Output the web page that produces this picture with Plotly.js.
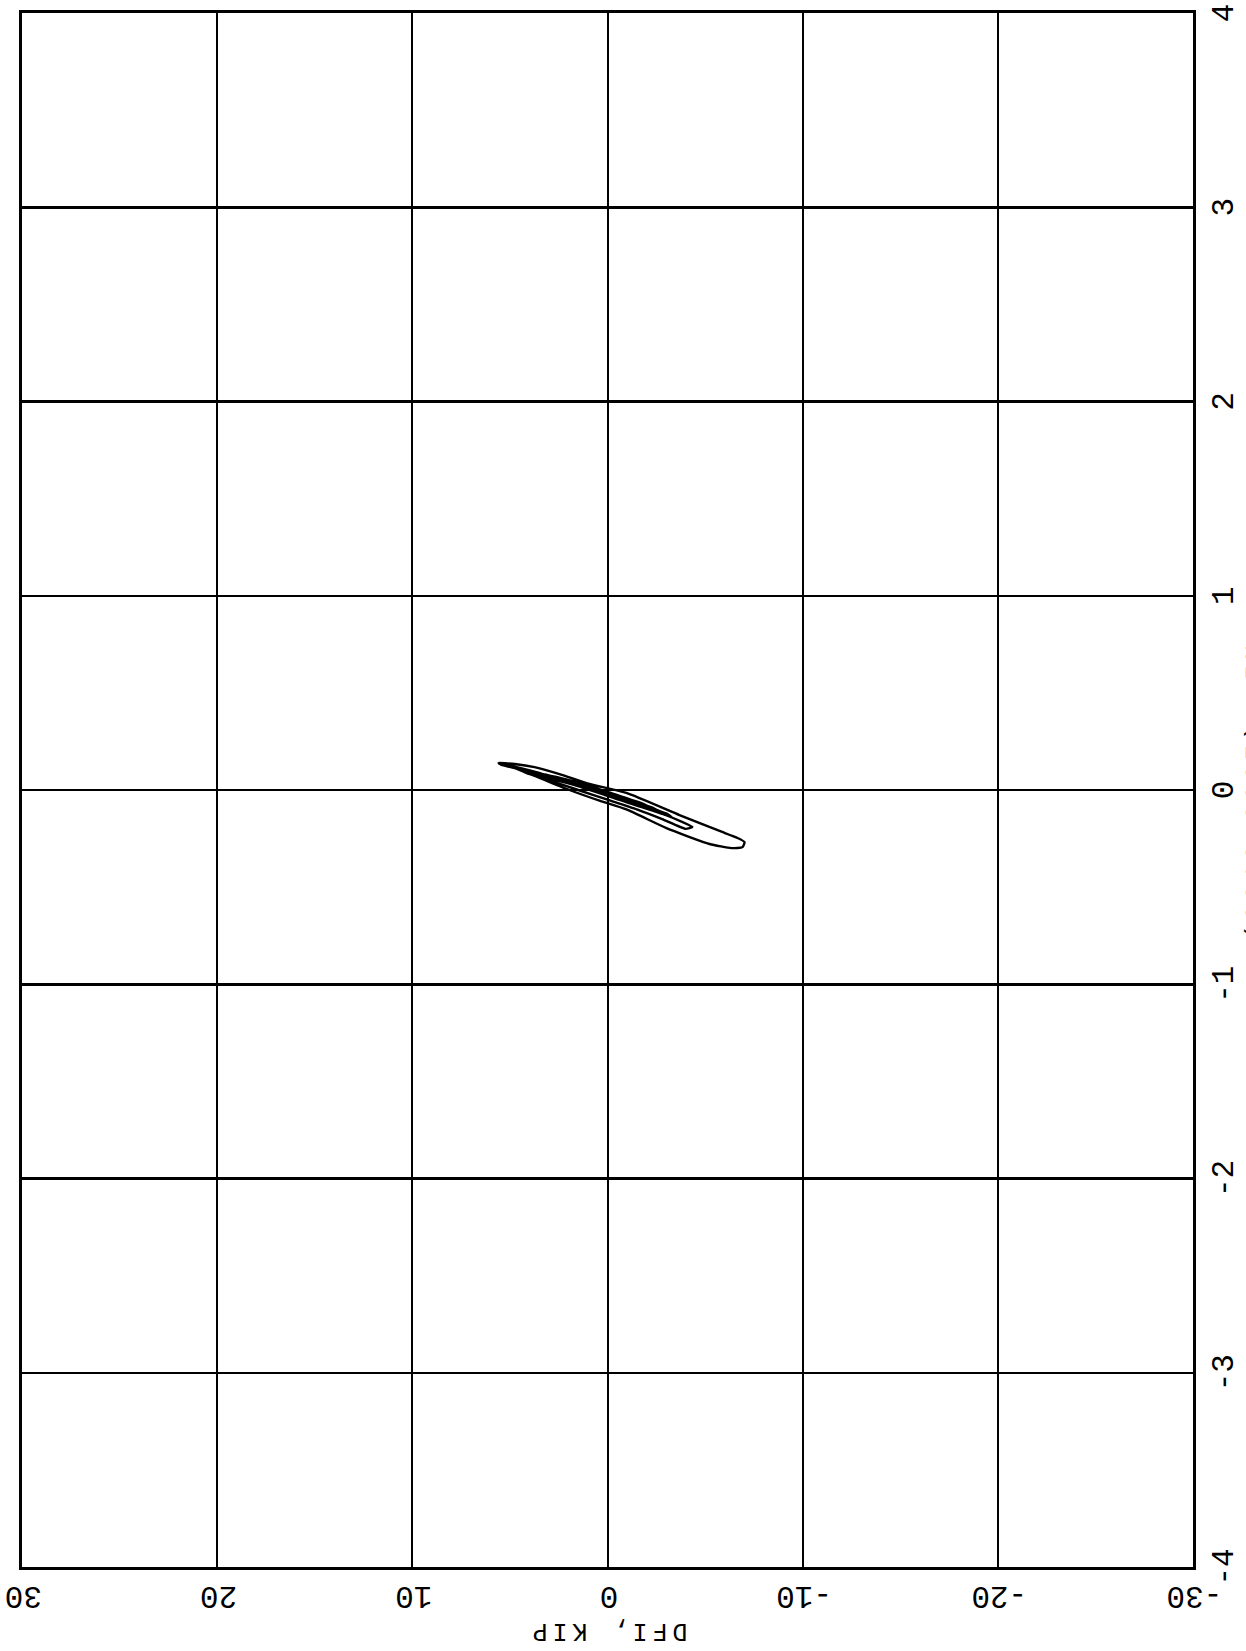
<!DOCTYPE html>
<html>
<head>
<meta charset="utf-8">
<script src="https://cdn.plot.ly/plotly-3.0.1.min.js"></script>
<style>
html,body{margin:0;padding:0;background:#fff;overflow:hidden;width:1246px;height:1651px;}
#wrap{position:absolute;left:0;top:0;width:1651px;height:1340px;transform-origin:0 0;transform:translate(-40px,1651px) rotate(-90deg);}
.ytitle,.xtitle{letter-spacing:5px;}
.xtitle{transform:translateY(-9px);}
</style>
</head>
<body>
<div id="wrap"></div>
<script>
// Displacement (IN) and force DFI (KIP), one pair of arrays per load cycle
const cycle1Disp = [0.139, 0.134, 0.118, 0.082, 0.031, -0.015, -0.129, -0.211, -0.247, -0.268, -0.294, -0.299, -0.278, -0.196, -0.100, -0.055, 0.000, 0.062, 0.113, 0.129, 0.139];
const cycle1Dfi  = [5.58, 4.76, 3.74, 2.46, 0.92, -0.97, -3.69, -5.74, -6.66, -7.02, -6.92, -6.35, -5.23, -3.02, -0.97, 0.41, 1.95, 3.48, 4.76, 5.43, 5.58];

const cycle2Disp = [0.09, 0.04, -0.02, -0.07, -0.12, -0.14, -0.10, -0.05, 0.01, 0.06, 0.09];
const cycle2Dfi  = [3.6, 2.0, 0.2, -1.4, -3.0, -3.3, -2.2, -0.6, 1.2, 2.8, 3.6];

const cycle3Disp = [0.10, 0.06, 0.02, -0.03, -0.08, -0.13, -0.19, -0.20, -0.15, -0.10, -0.05, 0.00, 0.05, 0.09, 0.10];
const cycle3Dfi  = [4.4, 3.0, 1.5, 0.0, -1.5, -3.0, -4.35, -4.0, -2.8, -1.5, 0.0, 1.5, 3.0, 4.2, 4.4];

const cycle4Disp = [0.07, 0.03, -0.01, -0.05, -0.09, -0.11, -0.08, -0.04, 0.00, 0.05, 0.07];
const cycle4Dfi  = [2.8, 1.5, 0.3, -1.0, -2.3, -2.6, -1.6, -0.4, 0.8, 2.2, 2.8];

const cycle5Disp = [0.05, 0.01, -0.04, -0.08, -0.09, -0.06, -0.02, 0.03, 0.05];
const cycle5Dfi  = [2.2, 0.9, -0.6, -1.9, -2.1, -1.2, 0.1, 1.6, 2.2];

const cycle6Disp = [0.04, 0.00, -0.04, -0.07, -0.05, -0.01, 0.04];
const cycle6Dfi  = [1.6, 0.4, -0.9, -1.5, -0.8, 0.5, 1.6];

const cycle7Disp = [0.06, 0.02, -0.03, -0.07, -0.10, -0.08, -0.04, 0.01, 0.05, 0.06];
const cycle7Dfi  = [2.5, 1.0, -0.5, -1.8, -2.4, -2.0, -0.9, 0.6, 2.0, 2.5];

const cycle8Disp = [0.03, -0.01, -0.05, -0.06, -0.03, 0.01, 0.03];
const cycle8Dfi  = [1.2, 0.0, -1.2, -1.3, -0.4, 0.7, 1.2];

const cycle9Disp = [0.08, 0.03, -0.02, -0.07, -0.11, -0.12, -0.09, -0.05, 0.00, 0.05, 0.08];
const cycle9Dfi  = [3.2, 1.8, 0.3, -1.2, -2.6, -2.9, -2.2, -1.0, 0.5, 2.1, 3.2];

const xTickVals = [-4, -3, -2, -1, 0, 1, 2, 3, 4];
const xTickText = ['-4', '-3', '-2', '-1', '0', '1', '2', '3', '4'];
const yTickVals = [-30, -20, -10, 0, 10, 20, 30];
const yTickText = ['-30', '-20', '-10', '0', '10', '20', '30'];
const xTitle = '(0013,0027), IN';
const yTitle = 'DFI, KIP';

const disp = [].concat(cycle1Disp, cycle2Disp, cycle3Disp, cycle4Disp, cycle5Disp, cycle6Disp, cycle7Disp, cycle8Disp, cycle9Disp);
const dfi  = [].concat(cycle1Dfi, cycle2Dfi, cycle3Dfi, cycle4Dfi, cycle5Dfi, cycle6Dfi, cycle7Dfi, cycle8Dfi, cycle9Dfi);

const trace = {
  x: disp, y: dfi, mode: 'lines', type: 'scatter',
  line: {color: '#000', width: 2.4, shape: 'spline', smoothing: 0.5},
  hoverinfo: 'skip'
};

const font = 'Liberation Mono, DejaVu Sans Mono, monospace';
const layout = {
  width: 1651, height: 1340,
  margin: {l: 84, r: 13, t: 62, b: 107, pad: 0},
  paper_bgcolor: '#fff', plot_bgcolor: '#fff',
  showlegend: false,
  font: {family: font, color: '#000'},
  xaxis: {
    range: [-4, 4], tickvals: xTickVals, ticktext: xTickText,
    showgrid: true, gridcolor: '#000', gridwidth: 2.5, zeroline: false,
    showline: true, mirror: true, linecolor: '#000', linewidth: 3,
    ticks: '', ticklabeloverflow: 'allow', tickfont: {family: font, size: 31, color: '#000'},
    title: {text: xTitle, font: {family: font, size: 25, color: '#000'}, standoff: 0}
  },
  yaxis: {
    range: [-30, 30], tickvals: yTickVals, ticktext: yTickText, tickangle: -90,
    ticklabelshift: 6, ticklabelstandoff: 5,
    showgrid: true, gridcolor: '#000', gridwidth: 2, zeroline: false,
    showline: true, mirror: true, linecolor: '#000', linewidth: 3,
    ticks: '', ticklabeloverflow: 'allow', tickfont: {family: font, size: 31, color: '#000'},
    title: {text: yTitle, font: {family: font, size: 25, color: '#000'}, standoff: 3}
  }
};

Plotly.newPlot('wrap', [trace], layout, {displayModeBar: false, staticPlot: true});
</script>
</body>
</html>
